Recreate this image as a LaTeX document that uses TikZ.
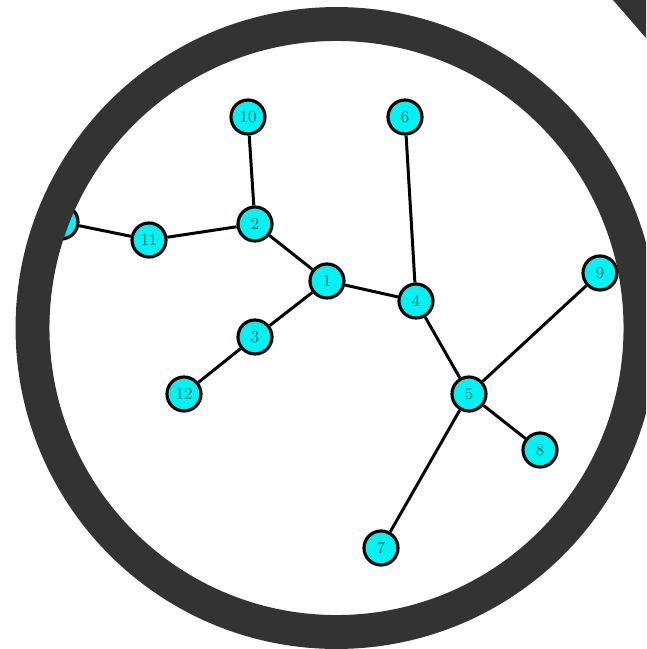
\documentclass[tikz,border=0pt]{standalone}
\usepackage{amsfonts, amsmath, amssymb}
\definecolor{anneau}{HTML}{333333}
\definecolor{remplissage}{HTML}{00F2F2}
\definecolor{etiquette}{HTML}{0C6A64}

\begin{document}
\begin{tikzpicture}[x=0.02cm, y=-0.02cm,
    sommet/.style={circle, draw=black, line width=1.8pt, fill=remplissage,
        minimum size=0.68cm, inner sep=0pt, text=etiquette,
        font=\fontsize{9.5}{9.5}\selectfont},
    arete/.style={black, line width=1.7pt}]

    % Cadre de l'image
    \useasboundingbox (0,0) rectangle (646,649);
    \clip (0,0) rectangle (646,649);
    \fill[white] (0,0) rectangle (646,649);

    % Sommets de l'arbre
    \node[sommet] (n13) at (61,222) {};
    \node[sommet] (n11) at (149,240) {11};
    \node[sommet] (n10) at (248,117) {10};
    \node[sommet] (n2) at (255,224) {2};
    \node[sommet] (n1) at (327,281) {1};
    \node[sommet] (n3) at (255,337) {3};
    \node[sommet] (n12) at (184,394) {12};
    \node[sommet] (n6) at (405,117) {6};
    \node[sommet] (n4) at (416,301) {4};
    \node[sommet] (n5) at (469,394) {5};
    \node[sommet] (n9) at (600,273) {9};
    \node[sommet] (n8) at (540,450) {8};
    \node[sommet] (n7) at (381,548) {7};

    % Aretes
    \draw[arete] (n13) -- (n11);
    \draw[arete] (n11) -- (n2);
    \draw[arete] (n10) -- (n2);
    \draw[arete] (n2) -- (n1);
    \draw[arete] (n1) -- (n3);
    \draw[arete] (n3) -- (n12);
    \draw[arete] (n1) -- (n4);
    \draw[arete] (n6) -- (n4);
    \draw[arete] (n4) -- (n5);
    \draw[arete] (n5) -- (n9);
    \draw[arete] (n5) -- (n8);
    \draw[arete] (n5) -- (n7);

    % Loupe : anneau et manche
    \draw[anneau, line width=19.3pt] (336.5,328) circle (304);
    \fill[anneau] (613,0) -- (646,0) -- (646,38) -- cycle;

\end{tikzpicture}
\end{document}
